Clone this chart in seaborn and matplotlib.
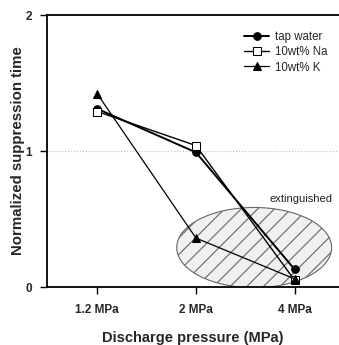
import matplotlib
matplotlib.use("Agg")
import matplotlib.pyplot as plt
import seaborn as sns
import pandas as pd
from matplotlib.patches import Ellipse

categories = ["1.2 MPa", "2 MPa", "4 MPa"]
tap_water = [1.31, 0.99, 0.13]
na_10wt = [1.29, 1.04, 0.05]
k_10wt = [1.42, 0.36, 0.06]
series_names = ["tap water", "10wt% Na", "10wt% K"]

sns.set_style("white")
plt.rcParams['font.family'] = ['Liberation Sans', 'DejaVu Sans']
plt.rcParams['hatch.color'] = '#777777'
plt.rcParams['hatch.linewidth'] = 0.8

fig = plt.figure(figsize=(3.39, 3.45), dpi=100)
ax = fig.add_axes([0.1386, 0.168, 0.8614, 0.7885])

x = list(range(len(categories)))

# extinguished region
ell = Ellipse((1.59, 0.29), 1.57, 0.59, facecolor="#f0f0f0", edgecolor="#666666",
              hatch="//", linewidth=0.8, zorder=1)
ax.add_patch(ell)
ax.text(2.06, 0.65, "extinguished", fontsize=8, ha="center", va="center", color="#222222")

ax.axhline(1, color="#c0c0c0", linestyle=":", linewidth=0.8, zorder=0)

styles = [
    dict(marker="o", markerfacecolor="black", markeredgecolor="black", linewidth=1.4),
    dict(marker="s", markerfacecolor="white", markeredgecolor="black", linewidth=1.0),
    dict(marker="^", markerfacecolor="black", markeredgecolor="black", linewidth=0.9),
]
for vals, name, st in zip([tap_water, na_10wt, k_10wt], series_names, styles):
    df = pd.DataFrame({"x": x, "y": vals})
    sns.lineplot(data=df, x="x", y="y", ax=ax, color="black", markersize=5.5,
                 label=name, zorder=3, **st)

ax.set_xlim(-0.51, 2.45)
ax.set_ylim(0, 2)
ax.set_xticks(x)
ax.set_xticklabels(categories, fontsize=8.5, fontweight="bold")
ax.set_yticks([0, 1, 2])
ax.set_yticklabels(["0", "1", "2"], fontsize=8.5, fontweight="bold")
ax.tick_params(axis="both", direction="out", length=5, width=1, color="black", bottom=True, left=True)
ax.tick_params(axis="x", pad=7)
ax.tick_params(axis="y", pad=6)
ax.set_xlabel("Discharge pressure (MPa)", fontsize=10.5, fontweight="bold")
ax.set_ylabel("Normalized suppression time", fontsize=10.8, fontweight="bold")
ax.xaxis.set_label_coords(0.5, -0.162)
ax.yaxis.set_label_coords(-0.075, 0.5)

for s in ["left", "bottom", "top"]:
    ax.spines[s].set_color("black")
    ax.spines[s].set_linewidth(1.3)
ax.spines["right"].set_visible(False)

ax.legend(loc="upper right", frameon=False, fontsize=8.3, handlelength=2.2,
          borderaxespad=0.6, labelspacing=0.3, handletextpad=0.5,
          bbox_to_anchor=(1.0, 0.985))

fig.savefig("out.png", dpi=100)
